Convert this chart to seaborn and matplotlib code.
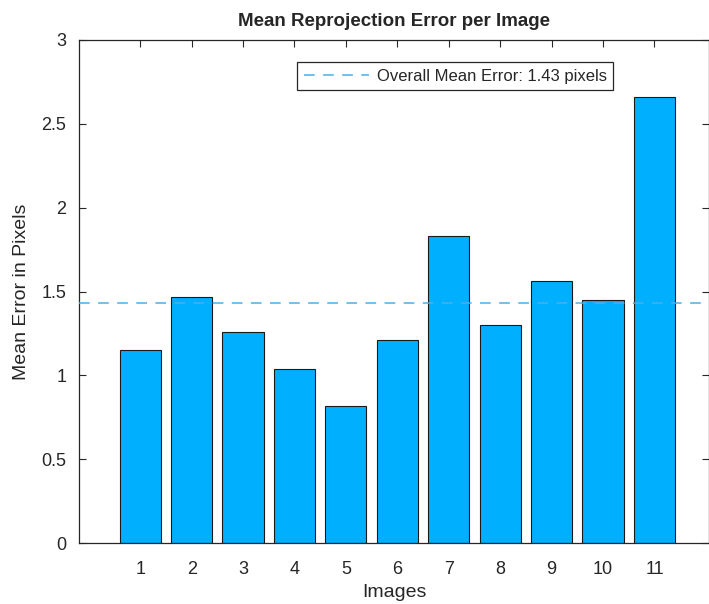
import numpy as np
import pandas as pd
import matplotlib
matplotlib.use('Agg')
import matplotlib.pyplot as plt
import seaborn as sns
from matplotlib.ticker import FormatStrFormatter

# data
images = [1, 2, 3, 4, 5, 6, 7, 8, 9, 10, 11]
errors = [1.15, 1.47, 1.26, 1.04, 0.82, 1.21, 1.83, 1.30, 1.56, 1.45, 2.66]
mean_err = 1.43

sns.set_style('ticks')
plt.rcParams['font.family'] = ['Liberation Sans', 'DejaVu Sans']

df = pd.DataFrame({'Image': images, 'Error': errors})

fig = plt.figure(figsize=(7.09, 6.04), dpi=100)
ax = fig.add_axes([79 / 709, 61 / 604, 1 - 79 / 709, 503 / 604])

sns.barplot(data=df, x='Image', y='Error', native_scale=True, width=0.8,
            color='#00B0FF', saturation=1, edgecolor='#1a1a1a', linewidth=0.8,
            ax=ax, zorder=2)

ax.axhline(mean_err, color='#4DAEE8', linestyle=(0, (7, 5.5)), linewidth=1.1,
           label=f'Overall Mean Error: {mean_err:.2f} pixels', zorder=3)

ax.set_xlim(-0.19, 12.06)
ax.set_ylim(0, 3)
ax.set_xticks(images)
ax.set_yticks(np.arange(0, 3.01, 0.5))
ax.yaxis.set_major_formatter(FormatStrFormatter('%g'))
ax.tick_params(direction='in', top=True, right=True, length=5, width=0.8,
               colors='#262626', labelsize=13)
ax.tick_params(axis='x', pad=13)
ax.tick_params(axis='y', pad=9)
for s in ax.spines.values():
    s.set_visible(True)
    s.set_color('#262626')
    s.set_linewidth(0.9)

ax.set_xlabel('Images', fontsize=14, color='#262626', labelpad=4)
ax.set_ylabel('Mean Error in Pixels', fontsize=14, color='#262626', labelpad=8)
ax.set_title('Mean Reprojection Error per Image', fontsize=13.5,
             fontweight='bold', pad=10)

leg = ax.legend(loc='upper right', bbox_to_anchor=(0.848, 0.956),
                borderaxespad=0, fancybox=False, edgecolor='#262626',
                framealpha=1, fontsize=12, handlelength=3.9,
                handletextpad=0.45, borderpad=0.4)
leg.get_frame().set_linewidth(0.9)

fig.savefig('out.png', dpi=100)
